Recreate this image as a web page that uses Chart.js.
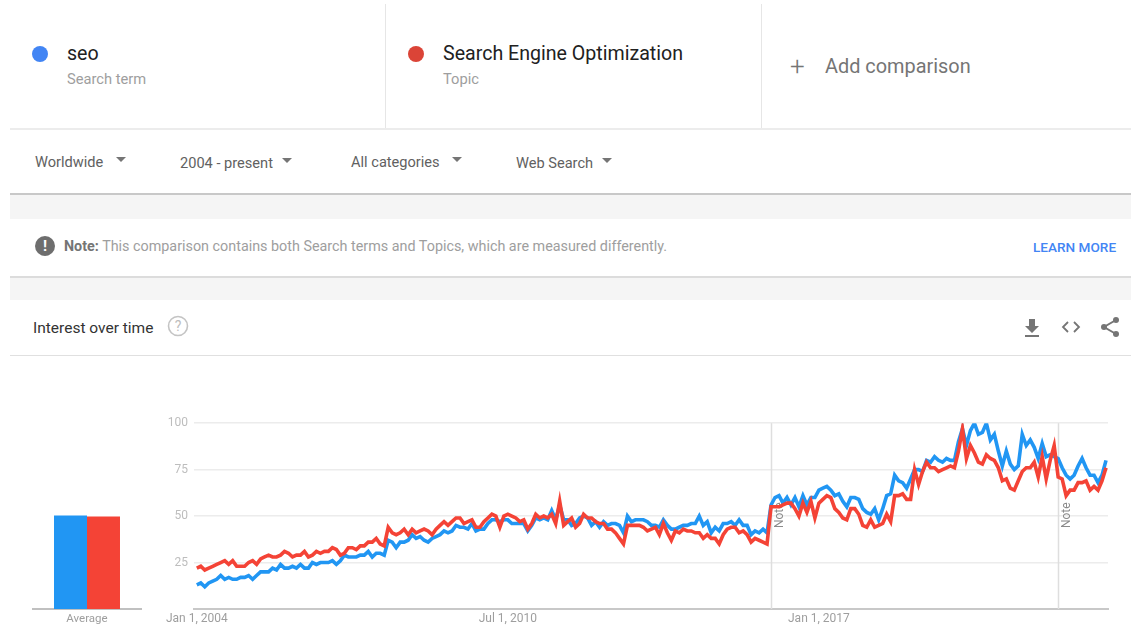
<!DOCTYPE html>
<html>
<head>
<meta charset="utf-8">
<script src="https://cdn.jsdelivr.net/npm/chart.js@4/dist/chart.umd.min.js"></script>
<style>
html, body { margin: 0; padding: 0; background: #fff; overflow: hidden; }
body { width: 1140px; height: 627px; position: relative; font-family: Roboto, sans-serif; }
.t { position: absolute; white-space: nowrap; line-height: 20px; height: 20px; }
.r { position: absolute; }
.dot { position: absolute; border-radius: 50%; }
.arrow { position: absolute; width: 0; height: 0; border-left: 5px solid transparent; border-right: 5px solid transparent; border-top: 5px solid #757575; }
canvas { position: absolute; }
svg { position: absolute; }
</style>
</head>
<body>
<!-- header -->
<div class="r" style="left:385px;top:4px;width:1px;height:124px;background:#e6e6e6"></div>
<div class="r" style="left:761px;top:4px;width:1px;height:124px;background:#e6e6e6"></div>
<div class="r" style="left:10px;top:128px;width:1121px;height:2px;background:#ececec"></div>
<div class="dot" style="left:32px;top:46px;width:16px;height:16px;background:#4285f4"></div>
<div class="t" style="left:67px;top:44px;font-size:19.6px;color:#212121">seo</div>
<div class="t" style="left:67px;top:69px;font-size:14.7px;color:#9e9e9e">Search term</div>
<div class="dot" style="left:408px;top:46px;width:16px;height:16px;background:#db4437"></div>
<div class="t" style="left:443px;top:44px;font-size:19.6px;color:#212121">Search Engine Optimization</div>
<div class="t" style="left:443px;top:69px;font-size:14.7px;color:#9e9e9e">Topic</div>
<div class="t" style="left:790px;top:56px;font-size:26px;font-weight:300;color:#757575">+</div>
<div class="t" style="left:825px;top:57px;font-size:19.9px;color:#757575">Add comparison</div>

<!-- filters -->
<div class="t" style="left:35px;top:152px;font-size:14.6px;color:#616161">Worldwide</div>
<div class="arrow" style="left:116px;top:157px"></div>
<div class="t" style="left:180px;top:153px;font-size:14.6px;color:#616161">2004 - present</div>
<div class="arrow" style="left:282px;top:158px"></div>
<div class="t" style="left:351px;top:152px;font-size:14.6px;color:#616161">All categories</div>
<div class="arrow" style="left:452px;top:157px"></div>
<div class="t" style="left:516px;top:153px;font-size:14.6px;color:#616161">Web Search</div>
<div class="arrow" style="left:602px;top:158px"></div>

<!-- grey bands -->
<div class="r" style="left:10px;top:193px;width:1121px;height:2px;background:#c8c8c8"></div>
<div class="r" style="left:10px;top:195px;width:1121px;height:24px;background:#f5f5f5"></div>
<div class="r" style="left:10px;top:276px;width:1121px;height:2px;background:#dcdcdc"></div>
<div class="r" style="left:10px;top:278px;width:1121px;height:22px;background:#f5f5f5"></div>

<!-- note row -->
<div class="dot" style="left:35px;top:236px;width:20px;height:20px;background:#6e6e6e"></div>
<div class="t" style="left:35px;top:236px;width:20px;text-align:center;font-size:15px;font-weight:700;color:#fff">!</div>
<div class="t" style="left:64px;top:237px;font-size:14.35px;color:#9e9e9e"><b style="color:#757575;font-weight:700">Note:</b> This comparison contains both Search terms and Topics, which are measured differently.</div>
<div class="t" style="left:1033px;top:237px;font-size:13.6px;font-weight:500;color:#4285f4">LEARN MORE</div>

<!-- section title -->
<div class="t" style="left:33px;top:318px;font-size:15.5px;color:#333">Interest over time</div>
<svg style="left:167px;top:315px" width="22" height="22" viewBox="0 0 22 22">
  <circle cx="11" cy="11" r="9.5" fill="none" stroke="#c4c4c4" stroke-width="1.6"/>
  <text x="11" y="16" text-anchor="middle" font-family="Roboto" font-size="14" fill="#bdbdbd">?</text>
</svg>
<svg style="left:1022px;top:317px" width="20" height="22" viewBox="0 0 20 22">
  <path d="M7 2h6v7h4l-7 7-7-7h4z M3 18h14v2H3z" fill="#757575"/>
</svg>
<svg style="left:1060px;top:318px" width="22" height="18" viewBox="0 0 22 18">
  <path d="M8 4 3 9l5 5 M14 4l5 5-5 5" fill="none" stroke="#757575" stroke-width="1.8"/>
</svg>
<svg style="left:1099px;top:315px" width="22" height="24" viewBox="0 0 22 24">
  <path d="M17 5 5 12l12 7" fill="none" stroke="#757575" stroke-width="2"/>
  <circle cx="17" cy="5" r="3" fill="#757575"/><circle cx="5" cy="12" r="3" fill="#757575"/><circle cx="17" cy="19" r="3" fill="#757575"/>
</svg>
<div class="r" style="left:10px;top:355px;width:1121px;height:1px;background:#e0e0e0"></div>

<canvas id="avgChart" style="left:22px;top:410px"></canvas>
<canvas id="trendChart" style="left:150px;top:410px"></canvas>

<script>
const seoValues = [
  13,14,12,14,15,16,18,16,17,16,
  16,17,17,18,16,18,20,20,20,22,
  21,24,22,22,23,22,24,22,22,25,
  24,25,25,25,26,24,26,29,28,28,
  28,29,29,31,28,30,30,29,37,36,
  33,36,36,37,40,38,39,37,36,38,
  39,40,42,41,42,45,44,44,43,46,
  42,43,43,46,48,48,47,48,48,46,
  46,46,46,42,45,49,48,49,48,53,
  48,56,48,48,45,46,49,50,49,45,
  47,44,47,45,46,46,45,41,50,47,
  48,48,48,47,45,45,44,48,45,43,
  43,44,45,45,46,46,50,45,47,41,
  44,42,46,46,47,45,48,45,45,40,
  42,41,43,41,56,60,61,57,60,56,
  60,55,61,56,60,60,64,65,66,64,
  61,62,58,55,60,60,59,54,52,51,
  54,48,54,61,62,72,69,68,65,70,
  75,75,74,80,79,82,80,79,81,80,
  80,90,97,88,96,100,94,95,100,91,
  94,85,77,85,78,75,77,94,88,91,
  87,81,89,82,83,82,81,76,72,70,
  72,77,81,76,72,72,68,72,80
];
const topicValues = [
  22,23,21,22,23,24,25,26,24,26,
  23,23,23,25,26,24,27,28,29,28,
  28,29,31,30,28,29,29,31,28,29,
  31,30,31,31,33,32,29,30,33,33,
  32,34,34,36,36,38,35,34,44,41,
  40,41,43,40,43,41,42,43,42,40,
  43,45,47,45,47,49,49,46,47,48,
  44,44,47,49,51,50,44,50,51,50,
  49,47,48,43,46,51,49,50,49,51,
  46,58,45,47,49,44,46,51,49,49,
  47,46,46,43,43,41,38,35,45,45,
  45,45,44,42,43,44,40,46,41,37,
  42,41,43,42,42,41,41,38,40,38,
  38,35,40,43,44,44,41,42,40,36,
  38,37,36,35,55,55,55,56,57,57,
  54,50,57,52,58,49,57,59,61,60,
  54,52,49,48,54,54,51,45,44,48,
  44,45,46,51,47,61,61,62,59,59,
  75,67,74,79,76,76,74,75,76,77,
  76,85,97,81,88,84,79,78,83,81,
  80,76,69,70,65,64,69,74,76,76,
  79,71,82,70,80,88,71,70,61,64,
  64,68,68,69,64,66,64,69,76
];
const averages = [50, 49.5];
const avgLabels = ['Average'];
const yTicks = [25, 50, 75, 100];
const xTickMonths = [0, 78, 156];
const xTickLabels = ['Jan 1, 2004', 'Jul 1, 2010', 'Jan 1, 2017'];
const noteMonths = [144, 216];

const BLUE = '#2196f3';
const RED = '#f44336';
Chart.defaults.font.family = 'Roboto, sans-serif';
Chart.defaults.animation = false;
Chart.defaults.responsive = false;
Chart.defaults.devicePixelRatio = 1;

function sizeCanvas(id, w, h) {
    const c = document.getElementById(id);
    c.width = w; c.height = h;
    c.style.width = w + 'px'; c.style.height = h + 'px';
    return c;
}

// vertical note markers, under the lines
const notePlugin = {
    id: 'notes',
    beforeDatasetsDraw(chart) {
        const { ctx, chartArea, scales } = chart;
        ctx.save();
        noteMonths.forEach(m => {
            const x = Math.round(scales.x.getPixelForValue(m)) + 0.5;
            ctx.strokeStyle = '#dedede';
            ctx.lineWidth = 1.5;
            ctx.beginPath();
            ctx.moveTo(x, chartArea.top);
            ctx.lineTo(x, chartArea.bottom);
            ctx.stroke();
            ctx.save();
            ctx.translate(x + 8, scales.y.getPixelForValue(50) + 12);
            ctx.rotate(-Math.PI / 2);
            ctx.font = '12px Roboto, sans-serif';
            ctx.fillStyle = '#8a8a8a';
            ctx.textBaseline = 'middle';
            ctx.fillText('Note', 0, 0);
            ctx.restore();
        });
        ctx.restore();
    }
};

new Chart(sizeCanvas('trendChart', 970, 217), {
    type: 'line',
    data: {
        datasets: [
            { label: 'Search Engine Optimization', data: topicValues.map((v, i) => ({ x: i, y: v })), borderColor: RED, borderWidth: 3.6, pointRadius: 0, tension: 0, order: 1 },
            { label: 'seo', data: seoValues.map((v, i) => ({ x: i, y: v })), borderColor: BLUE, borderWidth: 3.6, pointRadius: 0, tension: 0, order: 2 }
        ]
    },
    options: {
        layout: { padding: { top: 12, right: 12, left: 0, bottom: 0 } },
        plugins: { legend: { display: false }, tooltip: { enabled: false } },
        scales: {
            x: {
                type: 'linear',
                min: -0.7,
                max: 228.5,
                afterFit: s => { s.height = 18; },
                afterBuildTicks: s => { s.ticks = xTickMonths.map(v => ({ value: v })); },
                grid: { display: false, drawTicks: false },
                border: { display: true, color: '#c8c8c8', width: 2 },
                ticks: {
                    autoSkip: false, maxRotation: 0, padding: 3, color: '#9e9e9e', font: { size: 12 },
                    callback: v => xTickLabels[xTickMonths.indexOf(v)]
                }
            },
            y: {
                min: 0,
                max: 100,
                afterFit: s => { s.width = 44; },
                afterBuildTicks: s => { s.ticks = [0].concat(yTicks).map(v => ({ value: v })); },
                grid: { color: c => (c.tick && c.tick.value === 0 ? 'rgba(0,0,0,0)' : '#ececec'), lineWidth: 1.5, drawTicks: false },
                border: { display: false },
                ticks: {
                    padding: 6, color: '#bdbdbd', font: { size: 12 },
                    callback: v => (v === 0 ? '' : v)
                }
            }
        }
    },
    plugins: [notePlugin]
});

new Chart(sizeCanvas('avgChart', 130, 217), {
    type: 'bar',
    data: {
        labels: avgLabels,
        datasets: [
            { label: 'seo', data: [averages[0]], backgroundColor: BLUE, categoryPercentage: 0.611, barPercentage: 1 },
            { label: 'Search Engine Optimization', data: [averages[1]], backgroundColor: RED, categoryPercentage: 0.611, barPercentage: 1 }
        ]
    },
    options: {
        layout: { padding: { top: 12, right: 11, left: 11, bottom: 0 } },
        plugins: { legend: { display: false }, tooltip: { enabled: false } },
        scales: {
            x: {
                afterFit: s => { s.height = 18; },
                grid: { display: false, drawTicks: false },
                border: { display: true, color: '#c0c0c0', width: 2 },
                ticks: { padding: 3, color: '#9e9e9e', font: { size: 11.5 } }
            },
            y: { display: false, min: 0, max: 100 }
        }
    }
});
</script>
</body>
</html>
